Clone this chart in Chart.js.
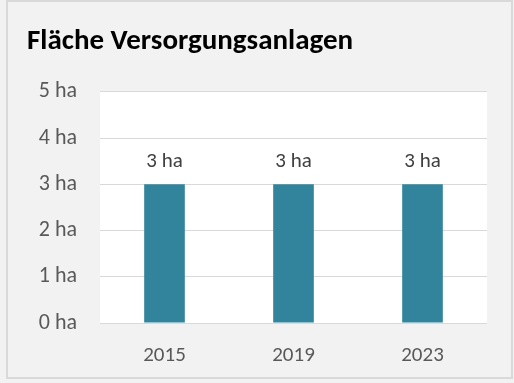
<!DOCTYPE html>
<html>
<head>
<meta charset="utf-8">
<script src="https://cdn.jsdelivr.net/npm/chart.js@4.4.1/dist/chart.umd.min.js"></script>
<style>
  html, body { margin: 0; padding: 0; background: #fff; }
  #wrap { width: 514px; height: 383px; }
</style>
</head>
<body>
<div id="wrap"><canvas id="flaecheChart" width="514" height="383"></canvas></div>
<script>
const years = ["2015", "2019", "2023"];
const flaeche = [3, 3, 3];
const yTicks = [0, 1, 2, 3, 4, 5];
const unit = " ha";

const FONT = "Carlito, Lato, sans-serif";

// gray card, border and white plot band
const panelBg = {
    id: "panelBg",
    beforeDraw(chart) {
        const { ctx, chartArea } = chart;
        ctx.save();
        ctx.fillStyle = "#f2f2f2";
        ctx.fillRect(0, 0, chart.width, chart.height);
        ctx.strokeStyle = "#d9d9d9";
        ctx.lineWidth = 2;
        ctx.strokeRect(7, 1, 505, 377);
        ctx.fillStyle = "#ffffff";
        ctx.fillRect(chartArea.left, chartArea.top, chartArea.right - chartArea.left, chartArea.bottom - chartArea.top);
        ctx.restore();
    }
};

// value labels above the bars
const barLabels = {
    id: "barLabels",
    afterDatasetsDraw(chart) {
        const { ctx } = chart;
        const meta = chart.getDatasetMeta(0);
        ctx.save();
        ctx.font = "21px " + FONT;
        ctx.fillStyle = "#404040";
        ctx.textAlign = "center";
        ctx.textBaseline = "middle";
        meta.data.forEach((bar, i) => {
            ctx.fillText(flaeche[i] + unit, bar.x, bar.y - 23);
        });
        ctx.restore();
    }
};

new Chart(document.getElementById("flaecheChart"), {
    type: "bar",
    data: {
        labels: years,
        datasets: [{
            data: flaeche,
            backgroundColor: "#31849b",
            categoryPercentage: 1,
            barPercentage: 0.315
        }]
    },
    options: {
        responsive: false,
        animation: false,
        layout: { padding: { left: 27, right: 27, top: 24, bottom: 17 } },
        plugins: {
            legend: { display: false },
            tooltip: { enabled: false },
            title: {
                display: true,
                text: "Fläche Versorgungsanlagen",
                align: "start",
                color: "#000000",
                font: { family: FONT, size: 29, weight: "bold" },
                padding: { top: 0, bottom: 33 }
            }
        },
        scales: {
            x: {
                afterFit(axis) {
                    axis.height = 43;
                },
                grid: { display: false },
                border: { display: false },
                ticks: {
                    color: "#595959",
                    font: { family: FONT, size: 21 },
                    padding: 12
                }
            },
            y: {
                min: 0,
                max: yTicks[yTicks.length - 1],
                afterBuildTicks(axis) {
                    axis.ticks = yTicks.map(v => ({ value: v }));
                },
                afterFit(axis) {
                    axis.width = 73;
                },
                grid: { color: "#d9d9d9", lineWidth: 1, drawTicks: false },
                border: { display: false },
                ticks: {
                    color: "#595959",
                    font: { family: FONT, size: 22 },
                    padding: 23,
                    callback: v => v + unit
                }
            }
        }
    },
    plugins: [panelBg, barLabels]
});
</script>
</body>
</html>
